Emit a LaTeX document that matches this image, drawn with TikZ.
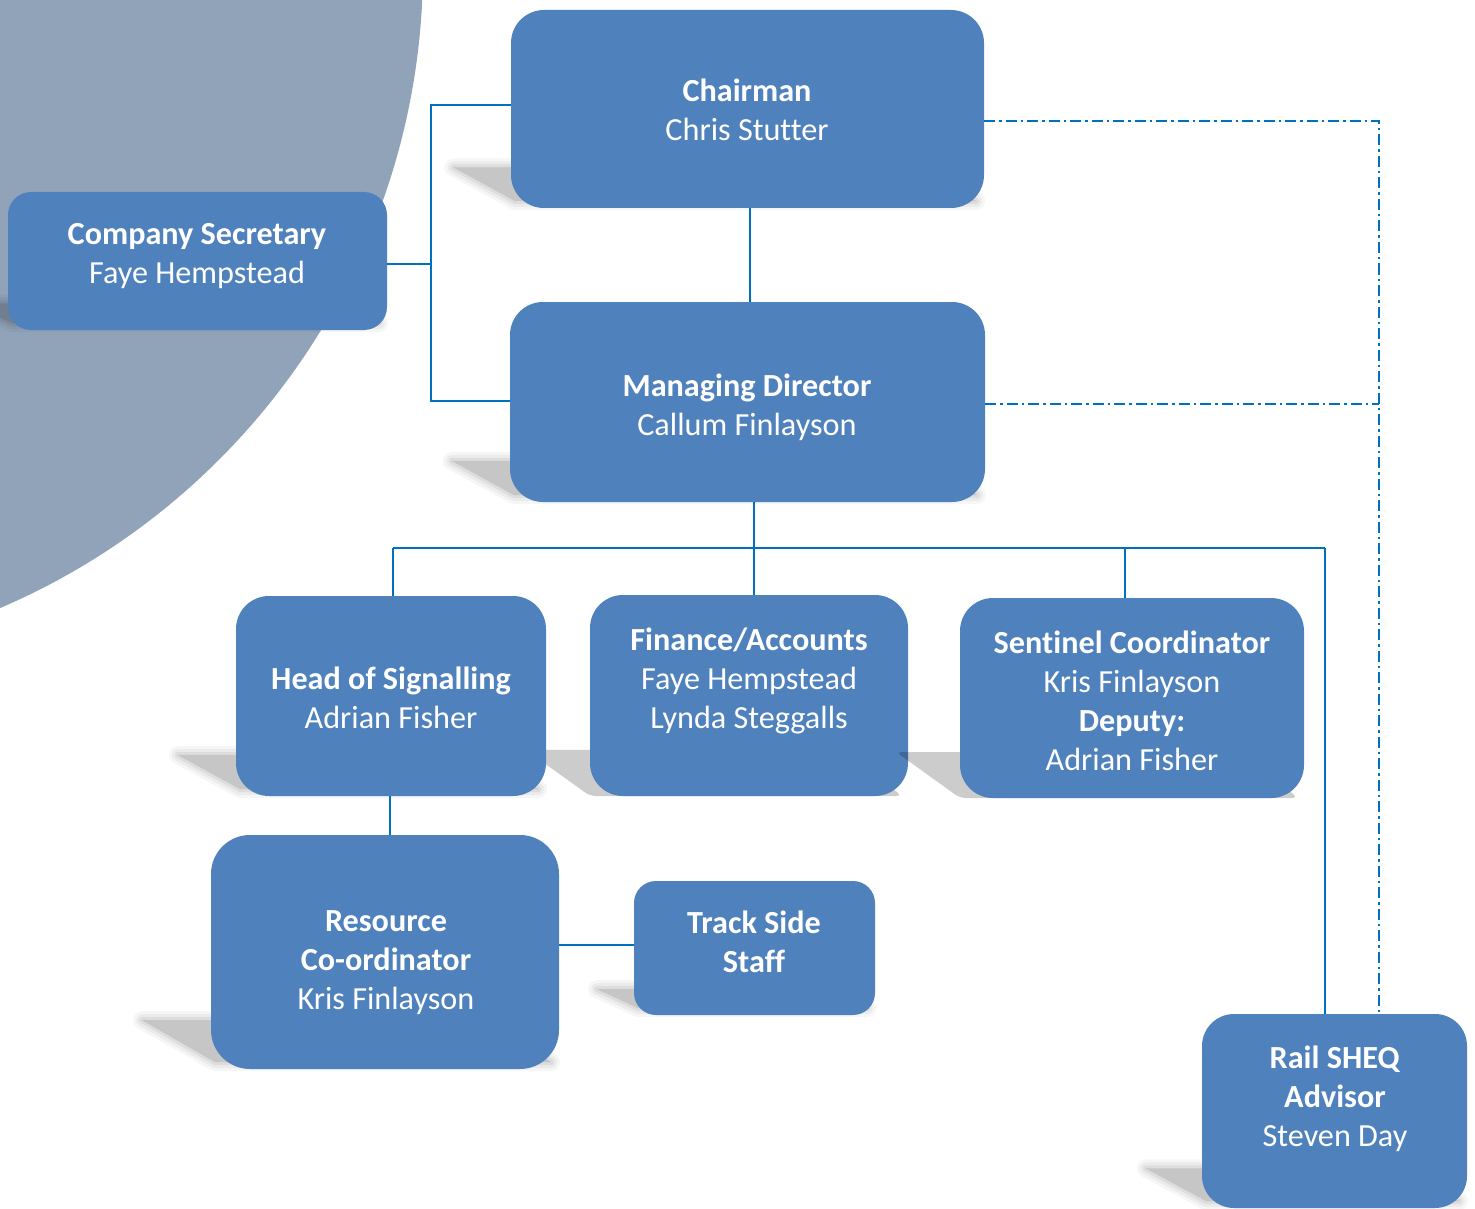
\documentclass[tikz,border=0pt]{standalone}
\usepackage{fontspec}
\setmainfont{Carlito}[Ligatures=NoCommon]
\definecolor{boxblue}{HTML}{4F81BD}
\definecolor{linkblue}{HTML}{0070C0}
\definecolor{circgrey}{HTML}{91A3B9}
\tikzset{
  box/.style={rectangle, fill=boxblue, inner sep=0pt, outer sep=0pt},
  txt/.style={text=white, align=center, font=\fontsize{32.2}{39}\selectfont,
    execute at begin node=\strut, execute at end node=\strut, inner sep=0pt},
  conn/.style={draw=linkblue, line width=2pt},
  dd/.style={draw=linkblue, line width=2pt, dash pattern=on 11pt off 4pt on 2.5pt off 4pt},
}
% blurred perspective shadow: left, top, right, bottom of the box
\newcommand\pshadow[4]{%
  \pgfmathsetmacro\sdx{0.32*(#4-#2)}%
  \pgfmathsetmacro\sdy{0.23*(#4-#2)}%
  \foreach \lw/\op in {18/0.035, 12/0.045, 6/0.06, 0.1/0.1}{%
    \begin{scope}[transparency group, opacity=\op]
      \filldraw[black, line width=\lw pt, line join=round]
        (#1-\sdx+6,#4-\sdy+5) -- (#3-\sdx,#4-\sdy+5) -- (#3-8,#4-7) -- (#1+4,#4-7) -- cycle;
    \end{scope}
  }%
}
% sharp perspective shadow
\newcommand\sshadow[4]{%
  \pgfmathsetmacro\sdx{0.32*(#4-#2)}%
  \pgfmathsetmacro\sdy{0.23*(#4-#2)}%
  \fill[black, opacity=0.2, rounded corners=6pt]
    (#1-\sdx,#4-\sdy) -- (#3-\sdx,#4-\sdy) -- (#3-6,#4) -- (#1,#4) -- cycle;
}
\begin{document}
\begin{tikzpicture}[x=1pt, y=-1pt]
\useasboundingbox (0,0) rectangle (1475,1209);
\begin{scope}
\clip (0,0) rectangle (1475,1209);
\fill[circgrey] (-274,-33) circle [radius=697pt];

% connector corners
\coordinate (jL) at (431,0);
\coordinate (vC) at (750,0);
\coordinate (b1) at (393,548);
\coordinate (b2) at (754,548);
\coordinate (b3) at (1125,548);
\coordinate (b4) at (1325,548);
\coordinate (dA) at (1379,121);
\coordinate (dB) at (1379,404);
\coordinate (hs) at (390,0);
\coordinate (rt) at (0,945);

% shadows and boxes
\pshadow{511}{10}{984}{208}
\node[box, minimum width=473pt, minimum height=198pt, rounded corners=33pt] (chair) at (747.5,109) {};
\pshadow{8}{192}{387}{330}
\node[box, minimum width=379pt, minimum height=138pt, rounded corners=23pt] (sec) at (197.5,261) {};
\pshadow{510}{302}{985}{502}
\node[box, minimum width=475pt, minimum height=200pt, rounded corners=33pt] (md) at (747.5,402) {};
\sshadow{590}{595}{908}{796}
\pshadow{236}{596}{546}{796}
\node[box, minimum width=310pt, minimum height=200pt, rounded corners=33pt] (head) at (391,696) {};
\node[box, minimum width=318pt, minimum height=201pt, rounded corners=33pt] (fin) at (749,695.5) {};
\sshadow{960}{598}{1304}{798}
\node[box, minimum width=344pt, minimum height=200pt, rounded corners=33pt] (sent) at (1132,698) {};
\pshadow{211}{835}{559}{1069}
\node[box, minimum width=348pt, minimum height=234pt, rounded corners=39pt] (res) at (385,952) {};
\pshadow{634}{881}{875}{1015}
\node[box, minimum width=241pt, minimum height=134pt, rounded corners=22pt] (track) at (754.5,948) {};
\pshadow{1202}{1014}{1467}{1208}
\node[box, minimum width=265pt, minimum height=194pt, rounded corners=32pt] (rail) at (1334.5,1111) {};

% solid connectors
\draw[conn] (chair.west |- 0,105) -- (jL |- 0,105) -- (jL |- 0,401) -- (md.west |- 0,401);
\draw[conn] (sec.east |- 0,264) -- (jL |- 0,264);
\draw[conn] (chair.south -| vC) -- (md.north -| vC);
\draw[conn] (md.south -| b2) -- (b2);
\draw[conn] (b1) -- (b4);
\draw[conn] (b1) -- (head.north -| b1);
\draw[conn] (b2) -- (fin.north -| b2);
\draw[conn] (b3) -- (sent.north -| b3);
\draw[conn] (b4) -- (rail.north -| b4);
\draw[conn] (head.south -| hs) -- (res.north -| hs);
\draw[conn] (res.east |- rt) -- (track.west |- rt);
% dash-dot connectors
\draw[dd] (chair.east |- dA) -- (dA) -- (rail.north -| dA);
\draw[dd] (md.east |- dB) -- (dB);

% texts
\node[txt] (chair-t) at (747,116) {\textbf{Chairman}\\Chris Stutter};
\node[txt] (sec-t) at (197,259) {\textbf{Company Secretary}\\Faye Hempstead};
\node[txt] (md-t) at (747,411) {\textbf{Managing Director}\\Callum Finlayson};
\node[txt] (head-t) at (391,704) {\textbf{Head of Signalling}\\Adrian Fisher};
\node[txt] (fin-t) at (749,684.5) {\textbf{Finance/Accounts}\\Faye Hempstead\\Lynda Steggalls};
\node[txt] (sent-t) at (1132,706.5) {\textbf{Sentinel Coordinator}\\Kris Finlayson\\\textbf{Deputy:}\\Adrian Fisher};
\node[txt] (res-t) at (386,965.5) {\textbf{Resource}\\\textbf{Co-ordinator}\\Kris Finlayson};
\node[txt] (track-t) at (754,948) {\textbf{Track Side}\\\textbf{Staff}};
\node[txt] (rail-t) at (1335,1102.5) {\textbf{Rail SHEQ}\\\textbf{Advisor}\\Steven Day};
\end{scope}
\end{tikzpicture}
\end{document}
